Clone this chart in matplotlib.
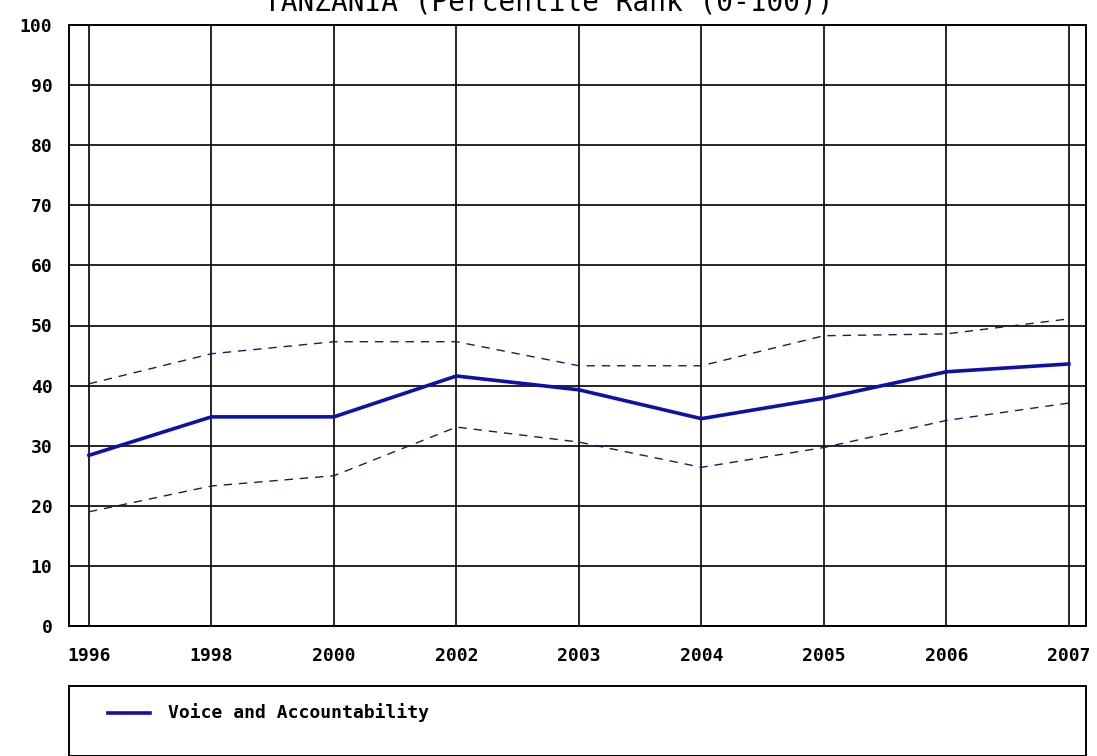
import matplotlib.pyplot as plt
from matplotlib.patches import Rectangle
from matplotlib.lines import Line2D

years = ["1996", "1998", "2000", "2002", "2003", "2004", "2005", "2006", "2007"]
voice = [28.4, 34.8, 34.8, 41.6, 39.3, 34.5, 37.9, 42.3, 43.6]
upper = [40.3, 45.3, 47.3, 47.3, 43.3, 43.3, 48.3, 48.6, 51.1]
lower = [19.0, 23.3, 25.0, 33.1, 30.6, 26.4, 29.7, 34.2, 37.1]

W, H = 1097, 756
fig = plt.figure(figsize=(W / 100, H / 100), dpi=100)
ax = fig.add_axes([69 / W, 1 - 626 / H, (1086 - 69) / W, (626 - 25) / H])

font = dict(family="DejaVu Sans Mono", weight="bold", size=13)
x = list(range(len(years)))

ax.plot(x, upper, color="#1a1a5e", lw=1.0, ls=(0, (6, 5)))
ax.plot(x, lower, color="#1a1a5e", lw=1.0, ls=(0, (6, 5)))
ax.plot(x, voice, color="#1010a8", lw=2.6)

ax.set_xlim(-0.163, 8.14)
ax.set_ylim(0, 100)
ax.set_xticks(x)
ax.set_xticklabels(years, **font)
ax.set_yticks(range(0, 101, 10))
ax.set_yticklabels([str(v) for v in range(0, 101, 10)], **font)
ax.tick_params(length=0)
ax.tick_params(axis="x", pad=15)
ax.tick_params(axis="y", pad=12)
ax.grid(True, color="black", lw=1.2)
ax.set_axisbelow(True)
for s in ax.spines.values():
    s.set_linewidth(1.4)

# title sits partly above the top edge, as in the source image
fig.text(0.5, 1 - 11 / H, "TANZANIA (Percentile Rank (0-100))", ha="center", va="baseline",
         family="DejaVu Sans Mono", size=20)

# legend box
fig.patches.append(Rectangle((69 / W, 0), (1086 - 69) / W, (756 - 686) / H,
                             transform=fig.transFigure, fill=False, ec="black", lw=1.4))
fig.lines.append(Line2D([108 / W, 150 / W], [1 - 713 / H, 1 - 713 / H],
                        transform=fig.transFigure, color="#1010a8", lw=2.6))
fig.text(168 / W, 1 - 713 / H, "Voice and Accountability", va="center", **font)

fig.savefig("out.png", dpi=100)
